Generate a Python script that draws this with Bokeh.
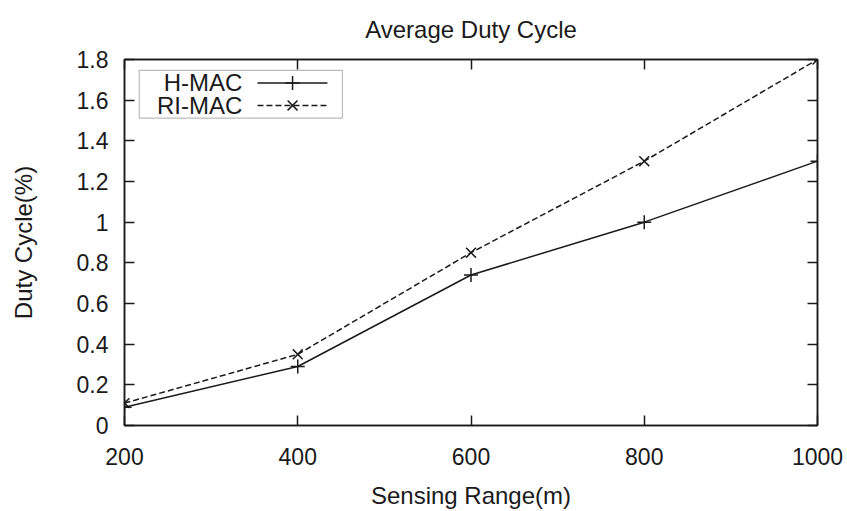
from bokeh.plotting import figure
from bokeh.models import Range1d, LinearAxis, BoxAnnotation, Label, FixedTicker
from bokeh.embed import file_html
from bokeh.resources import INLINE

# ---- data ----
sensing_range = [200, 400, 600, 800, 1000]
h_mac = [0.09, 0.29, 0.74, 1.00, 1.30]
ri_mac = [0.11, 0.35, 0.85, 1.30, 1.80]
series_names = ["H-MAC", "RI-MAC"]
x_ticks = [200, 400, 600, 800, 1000]
y_ticks = [0, 0.2, 0.4, 0.6, 0.8, 1.0, 1.2, 1.4, 1.6, 1.8]
y_tick_labels = ["0", "0.2", "0.4", "0.6", "0.8", "1", "1.2", "1.4", "1.6", "1.8"]
title_text = "Average Duty Cycle"

FONT = "Liberation Sans"
FS_TICK = "23px"
FS_LABEL = "24px"
INK = "#1a1a1a"

p = figure(width=847, height=511, output_backend="svg", toolbar_location=None,
           x_range=Range1d(200, 1000), y_range=Range1d(0, 1.8),
           min_border_left=124, min_border_right=30, min_border_top=58, min_border_bottom=78,
           title=title_text)
p.title.text_font = FONT
p.title.text_font_size = FS_LABEL
p.title.text_font_style = "normal"
p.title.align = "center"
p.title.vertical_align = "top"
p.title.text_color = INK
p.title.standoff = 30

p.xgrid.visible = False
p.ygrid.visible = False
p.outline_line_color = INK
p.outline_line_width = 1.5
p.background_fill_color = "white"
p.border_fill_color = "white"

def style_axis(ax):
    ax.major_tick_in = 10
    ax.major_tick_out = 0
    ax.minor_tick_line_color = None
    ax.axis_line_color = INK
    ax.axis_line_width = 1.5
    ax.major_tick_line_color = INK
    ax.major_tick_line_width = 1.5
    ax.major_label_text_font = FONT
    ax.major_label_text_font_size = FS_TICK
    ax.major_label_text_color = INK
    ax.axis_label_text_font = FONT
    ax.axis_label_text_font_size = FS_LABEL
    ax.axis_label_text_font_style = "normal"
    ax.axis_label_text_color = INK

p.xaxis.ticker = FixedTicker(ticks=x_ticks)
p.yaxis.ticker = FixedTicker(ticks=y_ticks)
p.yaxis.major_label_overrides = {t: s for t, s in zip(y_ticks, y_tick_labels)}
for ax in p.xaxis + p.yaxis:
    style_axis(ax)
p.xaxis.axis_label = "Sensing Range(m)"
p.yaxis.axis_label = "Duty Cycle(%)"
p.xaxis.major_label_standoff = 22
p.xaxis.axis_label_standoff = 14
p.yaxis.major_label_standoff = 16
p.yaxis.axis_label_standoff = 37

# mirrored ticks (inward) on top and right, no labels
top_ax = LinearAxis(ticker=FixedTicker(ticks=x_ticks))
right_ax = LinearAxis(ticker=FixedTicker(ticks=y_ticks))
for ax, ticks in ((top_ax, x_ticks), (right_ax, y_ticks)):
    style_axis(ax)
    ax.major_label_overrides = {t: "" for t in ticks}
    ax.major_label_standoff = 0
p.add_layout(top_ax, "above")
p.add_layout(right_ax, "right")

# ---- series ----
p.line(sensing_range, h_mac, line_color=INK, line_width=1.5)
p.scatter(sensing_range, h_mac, marker="cross", size=14, line_color=INK, line_width=1.5)
p.line(sensing_range, ri_mac, line_color=INK, line_width=1.5, line_dash="6 3")
p.scatter(sensing_range, ri_mac, marker="x", size=14, line_color=INK, line_width=1.5)

# ---- legend (gnuplot style: text left, sample right) ----
LEG_LEFT, LEG_RIGHT, LEG_TOP, LEG_BOTTOM = 217, 451.6, 1.747, 1.512
LEG_TEXT_X = 336
LEG_ROWS_Y = [1.685, 1.574]
LEG_SAMPLE_X = [353.5, 434.3]
LEG_MARK_X = 394

p.add_layout(BoxAnnotation(left=LEG_LEFT, right=LEG_RIGHT, top=LEG_TOP, bottom=LEG_BOTTOM,
                           fill_alpha=0.0, line_color=INK, line_width=1.2, level="underlay"))
dashes = ["solid", "6 3"]
markers = ["cross", "x"]
msizes = [14, 14]
for name, yy, dash, mk, ms in zip(series_names, LEG_ROWS_Y, dashes, markers, msizes):
    p.add_layout(Label(x=LEG_TEXT_X, y=yy, text=name, text_align="right", text_baseline="middle",
                       text_font=FONT, text_font_size=FS_LABEL, text_color=INK))
    p.line(LEG_SAMPLE_X, [yy, yy], line_color=INK, line_width=1.5, line_dash=dash)
    p.scatter([LEG_MARK_X], [yy], marker=mk, size=ms, line_color=INK, line_width=1.5)

open("out.html", "w").write(file_html(p, INLINE))
